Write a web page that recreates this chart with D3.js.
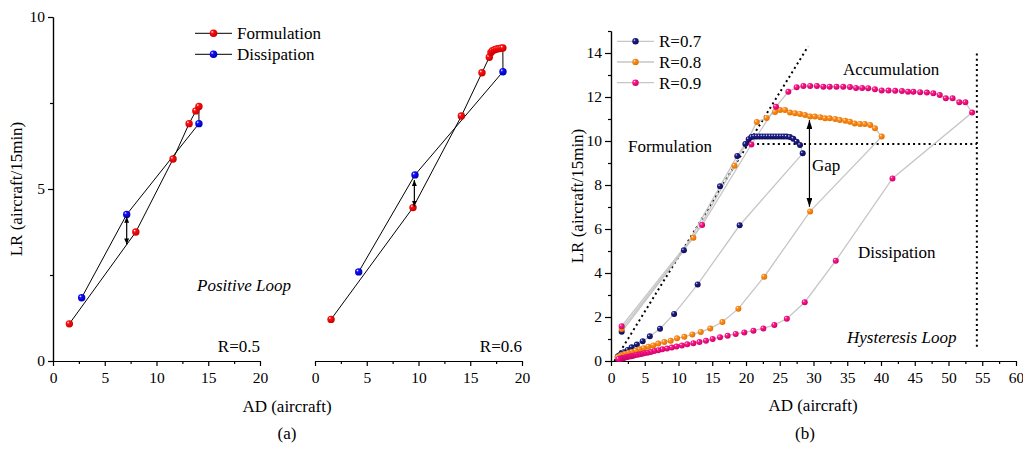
<!DOCTYPE html>
<html>
<head>
<meta charset="utf-8">
<title>Hysteresis loops</title>
<style>
  body, html { margin: 0; padding: 0; background: #fff; }
  svg text { font-family: 'Liberation Serif', 'Times New Roman', Times, 'DejaVu Serif', serif; fill: #000; }
  .axis text { font-size: 15.5px; }
  .axis path, .axis line { stroke: #000; stroke-width: 1.2; }
  .lab { font-size: 17px; }
</style>
<script src="https://d3js.org/d3.v7.min.js"></script>
</head>
<body>
<svg width="1023" height="453" font-family="Liberation Serif, Times New Roman, serif"></svg>
<script>
// ---- panel (a) data: [AD, LR]
const r5Formulation = [[1.58,1.08],[8.0,3.75],[11.6,5.87],[13.15,6.9],[13.8,7.27],[14.1,7.4]];
const r5Dissipation = [[14.1,6.9],[7.12,4.26],[2.77,1.84]];
const r6Formulation = [[1.55,1.21],[9.47,4.46],[14.14,7.12],[16.13,8.38],[16.84,8.83],[17.0,8.97],
  [17.15,9.02],[17.35,9.05],[17.55,9.07],[17.75,9.08],[17.95,9.09],[18.15,9.1]];
const r6Dissipation = [[18.16,8.41],[9.66,5.41],[4.22,2.59]];

// ---- panel (b) data
const r7Series = [[1.58,1.33],[10.8,5.03],[16.15,7.94],[18.7,9.32],[19.9,9.86],[20.4,10.08],
  [20.8,10.18],[21.2,10.21],[21.6,10.21],[22.0,10.21],[22.4,10.21],[22.8,10.21],[23.2,10.21],[23.6,10.21],
  [24.0,10.21],[24.4,10.21],[24.8,10.21],[25.2,10.21],[25.6,10.21],[26.0,10.2],[26.5,10.18],[27.0,10.1],
  [27.5,9.97],[28.0,9.82],[28.4,9.44],[19.06,6.17],[12.84,3.48],[9.35,2.14],[7.26,1.47],[5.75,1.12],
  [4.69,0.9],[3.83,0.75],[3.05,0.62],[2.47,0.5],[1.9,0.4],[1.5,0.32],[1.2,0.25],[1.0,0.2]];
const r8Series = [[1.58,1.45],[12.2,5.6],[18.3,8.88],[21.6,10.86],[23.06,11.05],[24.3,11.32],
  [25.04,11.41],[25.78,11.41],[26.52,11.3],[27.26,11.26],[28.0,11.23],[28.74,11.18],[29.48,11.11],
  [30.2,11.11],[31.0,11.08],[31.7,11.03],[32.4,11.03],[33.2,11.0],[33.9,10.95],[34.7,10.92],[35.4,10.88],
  [36.1,10.8],[36.9,10.77],[37.6,10.77],[38.4,10.73],[39.1,10.58],[40.1,10.2],[29.5,6.8],[22.7,3.83],
  [18.87,2.38],[16.5,1.77],[14.7,1.48],[13.3,1.32],[12.05,1.21],[10.86,1.1],[9.78,1.03],[8.84,0.92],
  [7.9,0.86],[7.0,0.79],[6.27,0.71],[5.53,0.65],[4.84,0.58],[4.2,0.53],[3.65,0.47],[3.06,0.41],
  [2.57,0.36],[2.07,0.32],[1.68,0.27],[1.33,0.23],[1.0,0.17]];
const r9Series = [[1.58,1.58],[13.5,6.18],[20.8,9.84],[24.44,11.56],[26.27,12.24],
  [27.5,12.44],[28.5,12.5],[29.5,12.5],[30.5,12.5],[31.45,12.47],[32.4,12.47],[33.4,12.47],[34.4,12.47],
  [35.4,12.45],[36.3,12.41],[37.2,12.41],[38.1,12.4],[39.1,12.35],[40.1,12.3],[41.1,12.29],[42.1,12.28],
  [43.1,12.27],[44.0,12.24],[44.8,12.24],[45.8,12.22],[46.8,12.2],[47.75,12.17],[48.7,12.09],[49.6,11.94],
  [50.6,11.94],[51.6,11.76],[52.5,11.76],[53.5,11.29],[41.7,8.3],[33.3,4.56],[28.7,2.67],[26.05,1.92],
  [24.2,1.64],[22.57,1.48],[21.1,1.38],[19.75,1.3],[18.47,1.23],[17.28,1.15],[16.15,1.08],[15.06,1.0],
  [14.07,0.92],[13.1,0.86],[12.2,0.81],[11.3,0.76],[10.5,0.71],[9.7,0.66],[9.0,0.61],[8.3,0.57],
  [7.6,0.53],[7.0,0.49],[6.4,0.45],[5.9,0.41],[5.4,0.38],[4.9,0.35],[4.5,0.32],[4.1,0.29],[3.7,0.27],
  [3.3,0.24],[3.0,0.22],[2.7,0.2],[2.4,0.18],[2.1,0.16],[1.9,0.14],[1.7,0.13],[1.5,0.11],[1.3,0.1],[1.1,0.09]];

// reference lines in (b)
const diagLine = [[0.5,0],[29.2,14.3]];
const gapLine = [[20.1,9.86],[54.2,9.86]];
const edgeLine = [[54.2,0.65],[54.2,14.06]];

// ticks
const aXTicks = [0,5,10,15,20], aXMinor = [2.5,7.5,12.5,17.5];
const aYTicks = [0,5,10], aYMinor = [2.5,7.5];
const bXTicks = [0,5,10,15,20,25,30,35,40,45,50,55,60];
const bXMinor = [2.5,7.5,12.5,17.5,22.5,27.5,32.5,37.5,42.5,47.5,52.5,57.5];
const bYTicks = [0,2,4,6,8,10,12,14], bYMinor = [1,3,5,7,9,11,13,15];

const FONT = "'Liberation Serif', 'Times New Roman', Times, 'DejaVu Serif', serif";
const svg = d3.select('svg');
const defs = svg.append('defs');

function ball(id, color, dark) {
  const g = defs.append('radialGradient').attr('id', id)
    .attr('cx', '40%').attr('cy', '40%').attr('r', '60%').attr('fx', '32%').attr('fy', '30%');
  g.append('stop').attr('offset', '0%').attr('stop-color', '#ffffff');
  g.append('stop').attr('offset', '30%').attr('stop-color', color);
  g.append('stop').attr('offset', '100%').attr('stop-color', dark);
}
ball('gRed', '#ff1010', '#c80000');
ball('gBlue', '#1010ff', '#0000b0');
ball('gNavy', '#20208c', '#0c0c55');
ball('gOrange', '#ff9020', '#e07000');
ball('gPink', '#ff1a8c', '#d0006a');

function arrowDef(id, len, wid) {
  defs.append('marker').attr('id', id).attr('viewBox', '0 0 10 10')
    .attr('refX', 10).attr('refY', 5).attr('markerUnits', 'userSpaceOnUse')
    .attr('markerWidth', len).attr('markerHeight', wid).attr('orient', 'auto-start-reverse')
    .attr('preserveAspectRatio', 'none')
    .append('path').attr('d', 'M0,0 L10,5 L0,10 Z').attr('fill', '#000');
}
arrowDef('arrS', 6, 5);
arrowDef('arrL', 9, 6);

// scales
const yA = d3.scaleLinear().domain([0, 10]).range([361, 17]);
const xA1 = d3.scaleLinear().domain([0, 20]).range([53, 260]);
const xA2 = d3.scaleLinear().domain([0, 20]).range([315, 522]);
const xB = d3.scaleLinear().domain([0, 60]).range([611, 1016]);
const yB = d3.scaleLinear().domain([0, 15]).range([361, 31]);

function styleAxis(g) {
  g.attr('font-family', FONT).attr('font-size', 15.5);
  g.selectAll('text').attr('font-family', FONT);
}
function bottomAxis(scale, y, major, minor) {
  svg.append('g').attr('class', 'axis').attr('transform', `translate(0,${y})`)
    .call(d3.axisBottom(scale).tickValues(minor).tickSize(3).tickSizeOuter(0).tickFormat(''));
  svg.append('g').attr('class', 'axis').attr('transform', `translate(0,${y})`)
    .call(d3.axisBottom(scale).tickValues(major).tickSize(5).tickSizeOuter(0).tickPadding(6))
    .call(styleAxis);
}
function leftAxis(scale, x, major, minor, size) {
  svg.append('g').attr('class', 'axis').attr('transform', `translate(${x},0)`)
    .call(d3.axisLeft(scale).tickValues(minor).tickSize(3).tickSizeOuter(0).tickFormat(''));
  svg.append('g').attr('class', 'axis').attr('transform', `translate(${x},0)`)
    .call(d3.axisLeft(scale).tickValues(major).tickSize(size).tickSizeOuter(0).tickPadding(3))
    .call(styleAxis);
}

bottomAxis(xA1, 361, aXTicks, aXMinor);
bottomAxis(xA2, 361, aXTicks, aXMinor);
leftAxis(yA, 53, aYTicks, aYMinor, 5);
bottomAxis(xB, 361, bXTicks, bXMinor);
leftAxis(yB, 611, bYTicks, bYMinor, 6);

function label(x, y, t, opts = {}) {
  const el = svg.append('text').attr('class', 'lab').attr('font-family', FONT).attr('font-size', 17)
    .attr('x', x).attr('y', y).text(t);
  if (opts.anchor) el.attr('text-anchor', opts.anchor);
  if (opts.italic) el.attr('font-style', 'italic');
  if (opts.rotate) el.attr('x', null).attr('y', null)
    .attr('transform', `translate(${x},${y}) rotate(-90)`);
  return el;
}

// ---- panel (a)
function loopA(xs, form, diss) {
  const line = d3.line().x(d => xs(d[0])).y(d => yA(d[1]));
  svg.append('path').datum(form.concat(diss)).attr('d', line)
    .attr('fill', 'none').attr('stroke', '#000').attr('stroke-width', 1);
  svg.append('g').selectAll('circle').data(diss).join('circle')
    .attr('cx', d => xs(d[0])).attr('cy', d => yA(d[1])).attr('r', 3.7).attr('fill', 'url(#gBlue)');
  svg.append('g').selectAll('circle').data(form).join('circle')
    .attr('cx', d => xs(d[0])).attr('cy', d => yA(d[1])).attr('r', 3.7).attr('fill', 'url(#gRed)');
}
loopA(xA1, r5Formulation, r5Dissipation);
loopA(xA2, r6Formulation, r6Dissipation);

function vArrow(xs, ys, x, y1, y2, id) {
  svg.append('line').attr('x1', xs(x)).attr('x2', xs(x)).attr('y1', ys(y1)).attr('y2', ys(y2))
    .attr('stroke', '#000').attr('stroke-width', 1.2)
    .attr('marker-start', `url(#${id})`).attr('marker-end', `url(#${id})`);
}
vArrow(xA1, yA, 7.12, 4.19, 3.39, 'arrS');
vArrow(xA2, yA, 9.6, 5.26, 4.49, 'arrS');

// legend (a)
[['Formulation', 'gRed', 33.3], ['Dissipation', 'gBlue', 54.3]].forEach(([t, g, y]) => {
  svg.append('line').attr('x1', 195).attr('x2', 232).attr('y1', y).attr('y2', y)
    .attr('stroke', '#000').attr('stroke-width', 1);
  svg.append('circle').attr('cx', 213.5).attr('cy', y).attr('r', 3.8).attr('fill', `url(#${g})`);
  label(237, y + 6, t);
});

label(197, 291, 'Positive Loop', { italic: true });
label(260, 351.5, 'R=0.5', { anchor: 'end' });
label(522, 351.5, 'R=0.6', { anchor: 'end' });
label(22, 189, 'LR (aircraft/15min)', { anchor: 'middle', rotate: true });
label(287, 411.5, 'AD (aircraft)', { anchor: 'middle' });
label(287, 439, '(a)', { anchor: 'middle' });

// ---- panel (b)
const lineB = d3.line().x(d => xB(d[0])).y(d => yB(d[1]));
[diagLine, gapLine, edgeLine].forEach(l => {
  svg.append('path').datum(l).attr('d', lineB).attr('fill', 'none')
    .attr('stroke', '#000').attr('stroke-width', 2).attr('stroke-dasharray', '2,3.2');
});

const seriesB = [
  { name: 'R=0.7', data: r7Series, grad: 'gNavy' },
  { name: 'R=0.8', data: r8Series, grad: 'gOrange' },
  { name: 'R=0.9', data: r9Series, grad: 'gPink' }
];
seriesB.forEach(s => {
  svg.append('path').datum(s.data).attr('d', lineB).attr('fill', 'none')
    .attr('stroke', '#c6c6c6').attr('stroke-width', 1.3);
});
seriesB.forEach(s => {
  svg.append('g').selectAll('circle').data(s.data).join('circle')
    .attr('cx', d => xB(d[0])).attr('cy', d => yB(d[1])).attr('r', 3)
    .attr('fill', `url(#${s.grad})`);
});

vArrow(xB, yB, 29.4, 10.95, 7.01, 'arrL');

// legend (b)
seriesB.forEach((s, i) => {
  const y = 41.3 + i * 20.7;
  svg.append('line').attr('x1', 617).attr('x2', 654).attr('y1', y).attr('y2', y)
    .attr('stroke', '#c6c6c6').attr('stroke-width', 1.3);
  svg.append('circle').attr('cx', 635.5).attr('cy', y).attr('r', 3.2).attr('fill', `url(#${s.grad})`);
  label(659, y + 6, s.name);
});

label(628, 152, 'Formulation');
label(843, 75, 'Accumulation');
label(812, 170.5, 'Gap');
label(858, 258, 'Dissipation');
label(847, 343, 'Hysteresis Loop', { italic: true });
label(583, 196, 'LR (aircraft/15min)', { anchor: 'middle', rotate: true });
label(813, 411, 'AD (aircraft)', { anchor: 'middle' });
label(805, 439, '(b)', { anchor: 'middle' });
</script>
</body>
</html>
